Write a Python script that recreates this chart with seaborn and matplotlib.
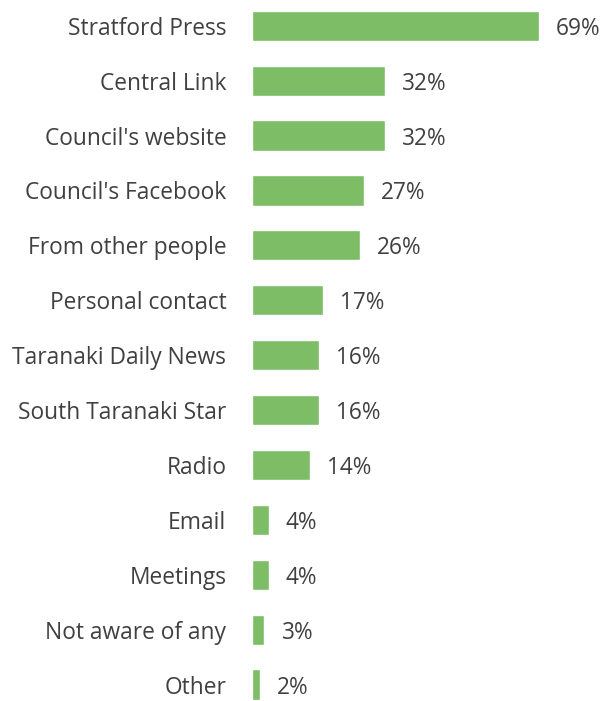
import matplotlib
matplotlib.use("Agg")
import pandas as pd
import seaborn as sns
from matplotlib import pyplot as plt

# Data
sources = ["Stratford Press", "Central Link", "Council's website", "Council's Facebook",
           "From other people", "Personal contact", "Taranaki Daily News",
           "South Taranaki Star", "Radio", "Email", "Meetings", "Not aware of any", "Other"]
percent = [69, 32, 32, 27, 26, 17, 16, 16, 14, 4, 4, 3, 2]

df = pd.DataFrame({"source": sources, "percent": percent})

sns.set_theme(style="white")
plt.rcParams['font.family'] = ['Open Sans', 'DejaVu Sans']

fig = plt.figure(figsize=(6.03, 7.01), dpi=100)
ax = fig.add_axes([252 / 603, 0, 349 / 603, 1])

sns.barplot(data=df, x="percent", y="source", orient="h", color="#7dbd66",
            saturation=1, width=0.55, ax=ax)

ax.set_xlim(0, 349 / 4.16)
ax.set_ylim(12.3, -0.47)

# value labels
for i, v in enumerate(percent):
    ax.text(v + 17 / 4.16, i, f"{v}%", va="center_baseline", ha="left",
            fontsize=16.3, color="#404040")

ax.set_xlabel("")
ax.set_ylabel("")
ax.set_xticks([])
ax.tick_params(axis="y", length=0, pad=18.5, labelsize=16.4, labelcolor="#404040")
sns.despine(ax=ax, left=True, bottom=True)

# SAVE FIGURE
plt.savefig("out.png", dpi=100)
